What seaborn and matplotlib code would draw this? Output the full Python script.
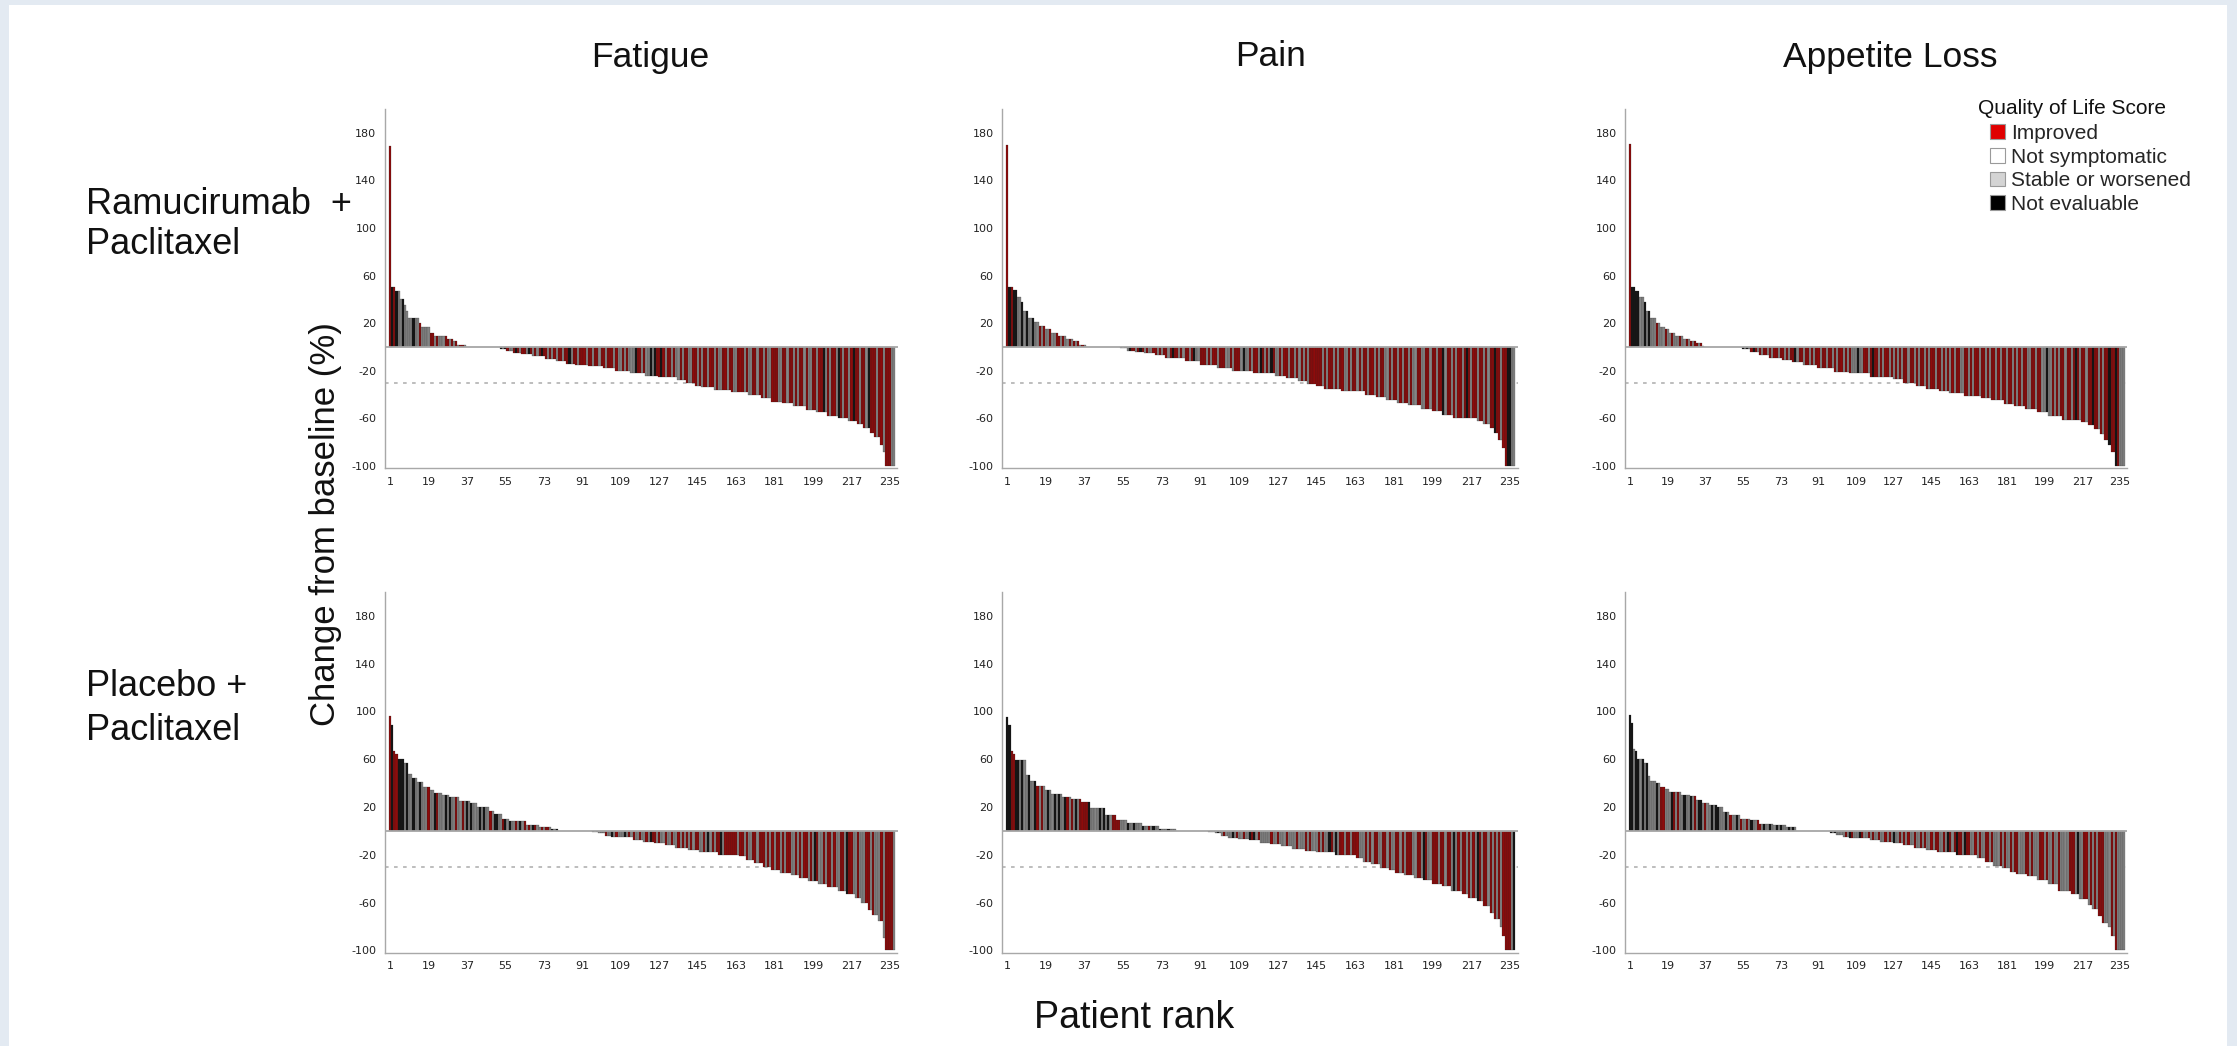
import numpy as np
import pandas as pd
import matplotlib
matplotlib.use("Agg")
import matplotlib.pyplot as plt
from matplotlib.patches import Patch, Rectangle
import seaborn as sns

# ---- data (change from baseline, %), as (value, count) runs in rank order
N_PATIENTS = 237

ram_fatigue_runs = [
    (169, 1), (50, 2), (47, 2), (40, 2), (35, 1), (30, 1), (24, 5), (20, 1), (17, 4), (12, 2),
    (9, 6), (7, 3), (5, 2), (2, 4), (0, 16),
    (-2, 3), (-3, 3), (-5, 4), (-6, 5), (-8, 6), (-10, 5), (-12, 5), (-14, 4),
    (-15, 6), (-16, 7), (-18, 6), (-20, 7), (-22, 7), (-24, 6), (-25, 9),
    (-28, 4), (-30, 4), (-33, 3), (-34, 6), (-36, 8), (-38, 8), (-40, 6), (-43, 5), (-46, 5),
    (-47, 5), (-50, 6), (-53, 5), (-55, 5), (-58, 5), (-60, 5), (-62, 4), (-65, 3), (-68, 3),
    (-72, 2), (-76, 3), (-82, 1), (-88, 1), (-100, 5),
]
ram_pain_runs = [
    (170, 1), (50, 2), (48, 2), (42, 2), (38, 1), (30, 2), (24, 3), (21, 2), (18, 3), (15, 3),
    (12, 3), (9, 4), (7, 3), (5, 3), (2, 3), (0, 16),
    (-1, 3), (-3, 4), (-4, 4), (-5, 5), (-7, 5), (-9, 9), (-12, 7), (-15, 8), (-18, 7),
    (-20, 10), (-22, 10), (-24, 5), (-26, 6), (-29, 4), (-31, 4), (-33, 4), (-35, 8), (-37, 11),
    (-40, 5), (-42, 5), (-45, 5), (-47, 5), (-49, 6), (-52, 5), (-54, 5), (-57, 5), (-60, 11),
    (-62, 3), (-65, 3), (-68, 2), (-72, 2), (-78, 2), (-85, 1), (-100, 5),
]
ram_appetite_runs = [
    (171, 1), (50, 2), (47, 2), (42, 2), (38, 1), (30, 2), (24, 3), (20, 2), (17, 2), (15, 2),
    (12, 3), (9, 4), (7, 3), (5, 3), (3, 3), (1, 1), (0, 18),
    (-2, 4), (-4, 4), (-7, 5), (-9, 6), (-11, 5), (-13, 5), (-15, 7), (-18, 8), (-21, 7),
    (-22, 10), (-25, 11), (-27, 5), (-30, 6), (-33, 5), (-35, 6), (-37, 5), (-39, 7), (-41, 8),
    (-43, 5), (-45, 6), (-48, 5), (-50, 5), (-52, 6), (-55, 5), (-58, 7), (-61, 9),
    (-63, 3), (-66, 3), (-69, 3), (-73, 2), (-78, 2), (-82, 1), (-88, 2), (-100, 5),
]
pla_fatigue_runs = [
    (96, 1), (89, 1), (67, 1), (64, 1), (60, 3), (57, 2), (48, 2), (44, 2), (41, 3), (37, 3),
    (34, 2), (32, 4), (30, 3), (28, 5), (25, 5), (23, 3), (20, 6), (17, 2), (14, 4), (10, 3),
    (8, 8), (5, 6), (3, 6), (2, 3), (0, 16),
    (-1, 3), (-2, 3), (-4, 3), (-5, 10), (-8, 5), (-9, 5), (-10, 5), (-12, 5), (-14, 6), (-16, 5),
    (-18, 9), (-20, 10), (-21, 3), (-24, 4), (-27, 4), (-30, 4), (-33, 4), (-35, 5), (-37, 4),
    (-39, 4), (-42, 5), (-44, 4), (-47, 5), (-50, 4), (-53, 4), (-56, 3), (-60, 3),
    (-66, 2), (-70, 3), (-75, 2), (-90, 1), (-100, 5),
]
pla_pain_runs = [
    (95, 1), (89, 1), (67, 1), (64, 1), (59, 5), (47, 2), (42, 3), (38, 4), (34, 3), (31, 5),
    (28, 4), (27, 5), (24, 4), (19, 7), (13, 5), (9, 5), (7, 7), (4, 8), (2, 8), (0, 15),
    (-1, 3), (-2, 3), (-4, 3), (-6, 5), (-7, 5), (-8, 5), (-10, 5), (-11, 5), (-13, 5), (-15, 6),
    (-17, 5), (-18, 9), (-20, 10), (-23, 3), (-26, 4), (-28, 4), (-31, 4), (-33, 3), (-35, 4),
    (-37, 5), (-39, 4), (-41, 4), (-44, 5), (-46, 4), (-50, 5), (-53, 3), (-56, 4), (-59, 3),
    (-63, 3), (-69, 2), (-74, 3), (-80, 1), (-88, 1), (-100, 5),
]
pla_appetite_runs = [
    (97, 1), (90, 1), (69, 1), (67, 1), (60, 3), (57, 2), (46, 1), (42, 3), (40, 2), (37, 2),
    (35, 2), (33, 6), (30, 4), (29, 3), (26, 3), (23, 3), (22, 4), (20, 3), (16, 3), (13, 5),
    (10, 5), (9, 4), (6, 7), (5, 6), (3, 5), (0, 16),
    (-2, 3), (-3, 3), (-5, 3), (-6, 10), (-8, 5), (-9, 6), (-10, 5), (-12, 5), (-14, 6), (-16, 5),
    (-18, 9), (-20, 10), (-23, 4), (-26, 4), (-29, 4), (-31, 4), (-34, 3), (-36, 5), (-38, 5),
    (-41, 5), (-44, 5), (-50, 6), (-53, 4), (-57, 4), (-62, 2), (-65, 3), (-71, 2), (-77, 3),
    (-80, 1), (-88, 2), (-100, 5),
]

# QoL category per bar: r improved, w not symptomatic, g stable or worsened, k not evaluable
ram_fatigue_qol = (
    "rkrkggkggg gkggrggggr rgrgggrrgr grgrrgwwww wwwwwwwwww wwkgkrggrk rgrrgkrgrg rkrrgrgrgr "
    "rgrrkgrrgr rrgrrgrrgr rgrrrgrggr grgggkrrgr ggkgkrrkrg rrgrggrgrr ggrrgrgrrg rrgrggrrgr "
    "rggrrrgrgg rrgrrgrggr rrggrrgrrg rgrrgrggrr grrkgrgrrg krgrrgrkrr grrgkrrrgr rgrrrgg"
)
ram_pain_qol = (
    "rkrkkggkgk ggkggrgrgg rggrrgrggr grgrgrgwww wwwwwwwwww wwwkgkgkrr grkrgrggrr grgrrgrkrr "
    "grgrrgrkgg rrrgrgrrgr rrggrgrrrg kggrgrrgkr grgkrggrgr rgrrgrgrgr grrrrrrgrg rrgrgrrggr "
    "grrgrgrrgr rgrgrrggrg rrgrgrrgrg grrggrrgrr grrkgrrgrg rrgrkrgrrg rrgrgrrkrr grrkkgg"
)
ram_appetite_qol = (
    "rkkkkggkgk gggrgggrgg rgggrggrgr grrgrgwwww wwwwwwwwww wwwwkgkgrk rgrgrrgrgr rgrrgrgrrk "
    "grrgrrgrgr rgrrgrrgrg rrgrgrgggk ggrrgrkrrg rgrrgrgrgr grrgrrgrgr rgrgrrgrrg rgrgrgrrgg "
    "rrgrgrrgrr grgrrgrgrr grrgrgrgrr ggrrgrrggk ggrgrgrrgr rgrkrgrrgr rkrrgrgrrk rrkrggg"
)
pla_fatigue_qol = (
    "rkrrkkkgkg gkggkgggrg gkrgggkgkg grggrgkgkg ggkgkggrgk kggrkgkggr gkgrgrgkrg grgrrgkgkw "
    "wwwwwwwwww wwwwwkgkgg grggkgrggg kgrgrggrgg rgkrrgrggr ggrggrgrgr grgrrggrgk grgrrkgrrr "
    "rrrgrrgrgg rrgrrrgrgr grrgrgrrgg rgrgrrgrgk rggrgrrgrg grrgkrrggr gggrrgrggg rgrrrrg"
)
pla_pain_qol = (
    "kkrrkkgkgg kggkrgrggk ggkgkggkrg rgkgrrrrkg gggkgkgkgr rrrgggkggk gggkggrgkg gkgggkgggw "
    "wwwwwwwwww wwwwkgggkg grgggkgrgg rggkrkgrgg gggrggrggg rggggrgggr grgggrgrgg krgkgrrgrr "
    "grrrgggrgr grrggrrgrg grrgrgrrrg grrgkrggrr rgrrgrrgkg rgrrgrgrgk rgrrgrgrgr grrrrgk"
)
pla_appetite_qol = (
    "kkgkkgkgkg gggkgrrggg krgrggkggk grgkkgrggk gkkgggkgrg gkgrggrgkg grrgkggkgg kgkgggkgkg "
    "wwwwwwwwww wwwwwwkgkg gggrgkrggg krggrgrggr ggrgrgkggr grgrggrggr grggrgrrgg rgkrgrkrrg "
    "krrggrgrgg rrgrgggrgr ggrgrrgggr rgrgggrrgr ggrggrgggg rrrgkggrrg rgrgrrrggg rgrgggg"
)

columns = ["Fatigue", "Pain", "Appetite Loss"]
arms = [("Ramucirumab  +", "Paclitaxel"), ("Placebo +", "Paclitaxel")]
panel_runs = [[ram_fatigue_runs, ram_pain_runs, ram_appetite_runs],
              [pla_fatigue_runs, pla_pain_runs, pla_appetite_runs]]
panel_qol = [[ram_fatigue_qol, ram_pain_qol, ram_appetite_qol],
             [pla_fatigue_qol, pla_pain_qol, pla_appetite_qol]]

rank_ticks = list(range(1, 236, 18))
rank_minor = list(range(10, 236, 18))
y_major = [-100, -60, -20, 20, 60, 100, 140, 180]
y_minor = [-80, -40, 0, 40, 80, 120, 160, 200]

categories = ["Improved", "Not symptomatic", "Stable or worsened", "Not evaluable"]
code_to_cat = {"r": "Improved", "w": "Not symptomatic", "g": "Stable or worsened", "k": "Not evaluable"}
bar_palette = {"Improved": "#8e0b0b", "Not symptomatic": "#ffffff",
               "Stable or worsened": "#858585", "Not evaluable": "#141414"}
legend_colors = {"Improved": "#e00000", "Not symptomatic": "#ffffff",
                 "Stable or worsened": "#d4d4d4", "Not evaluable": "#000000"}


def panel_frame(runs, qol, name):
    values = np.repeat([v for v, _ in runs], [n for _, n in runs])
    codes = qol.replace(" ", "")
    assert len(values) == N_PATIENTS, (name, len(values))
    assert len(codes) == N_PATIENTS, (name, len(codes))
    return pd.DataFrame({
        "rank": np.arange(1, N_PATIENTS + 1),
        "change": values,
        "qol": [code_to_cat[c] for c in codes],
    })


sns.set_style("white")
plt.rcParams["font.family"] = ["Liberation Sans", "DejaVu Sans"]

W, H = 2237, 1046
fig = plt.figure(figsize=(W / 100, H / 100), dpi=100, facecolor="#e3eaf2")
fig.patches.append(Rectangle((9 / W, 0), (2227 - 9) / W, (1041) / H,
                             transform=fig.transFigure, facecolor="white",
                             edgecolor="none", zorder=-10))

# axes boxes in pixels: (left, right) per column, (top, bottom) per row
col_px = [(384.7, 897.5), (1002.0, 1517.5), (1624.8, 2127.3)]
row_px = [(109.0, 468.3), (592.0, 952.8)]

for i in range(2):
    for j in range(3):
        l, r = col_px[j]
        t, b = row_px[i]
        ax = fig.add_axes([l / W, 1 - b / H, (r - l) / W, (b - t) / H])
        df = panel_frame(panel_runs[i][j], panel_qol[i][j], (i, j))
        ax.axhline(-30, color="#b8b8b8", lw=1.3, ls=(0, (2, 3)), zorder=0.5)
        sns.barplot(data=df, x="rank", y="change", hue="qol", hue_order=categories,
                    palette=bar_palette, native_scale=True, dodge=False, width=1.0,
                    errorbar=None, legend=False, edgecolor="#202020", linewidth=0.15,
                    saturation=1, ax=ax)
        ax.axhline(0, color="#a8a8a8", lw=1.3, zorder=3)
        ax.set_xlim(-1.5, 238.5)
        ax.set_ylim(-102, 200)
        ax.set_xticks(rank_ticks)
        ax.set_xticks(rank_minor, minor=True)
        ax.set_yticks(y_major)
        ax.set_yticks(y_minor, minor=True)
        ax.set_xticklabels([str(v) for v in rank_ticks], family="DejaVu Sans", fontsize=8)
        ax.set_yticklabels([str(v) for v in y_major], family="DejaVu Sans", fontsize=8)
        ax.set_xlabel("")
        ax.set_ylabel("")
        for side in ["top", "right"]:
            ax.spines[side].set_visible(False)
        for side in ["left", "bottom"]:
            ax.spines[side].set_color("#a8a8a8")
            ax.spines[side].set_linewidth(1.0)
        ax.tick_params(which="both", direction="out", color="#a8a8a8", width=0.9,
                       labelcolor="#222222")
        ax.tick_params(which="major", length=4, pad=2)
        ax.tick_params(which="minor", length=4)
        ax.set_facecolor("none")

# column titles
for j, name in enumerate(columns):
    cx = [650, 1270, 1890][j]
    fig.text(cx / W, 1 - 57 / H, name, ha="center", va="center", fontsize=25.5, color="#111111")

# row labels
for i, (line1, line2) in enumerate(arms):
    y1, y2 = [(204, 245), (686, 730)][i]
    fig.text(86 / W, 1 - y1 / H, line1, ha="left", va="center", fontsize=26, color="#111111")
    fig.text(86 / W, 1 - y2 / H, line2, ha="left", va="center", fontsize=26, color="#111111")

fig.text(326 / W, 1 - 524 / H, "Change from baseline (%)", rotation=90, ha="center",
         va="center", fontsize=25, color="#111111")
fig.text(1134 / W, 1 - 1018 / H, "Patient rank", ha="center", va="center",
         fontsize=27, color="#111111")

# legend
fig.text(1978 / W, 1 - 108 / H, "Quality of Life Score", ha="left", va="center",
         fontsize=15, color="#111111")
handles = [Patch(facecolor=legend_colors[c], edgecolor="#9a9a9a", linewidth=0.8) for c in categories]
fig.legend(handles, categories, loc="upper left", bbox_to_anchor=(1990 / W, 1 - 124 / H),
           frameon=False, fontsize=15, handlelength=0.7, handleheight=0.7,
           handletextpad=0.3, labelspacing=0.22, borderpad=0, borderaxespad=0)

fig.savefig("out.png", dpi=100, facecolor=fig.get_facecolor())
